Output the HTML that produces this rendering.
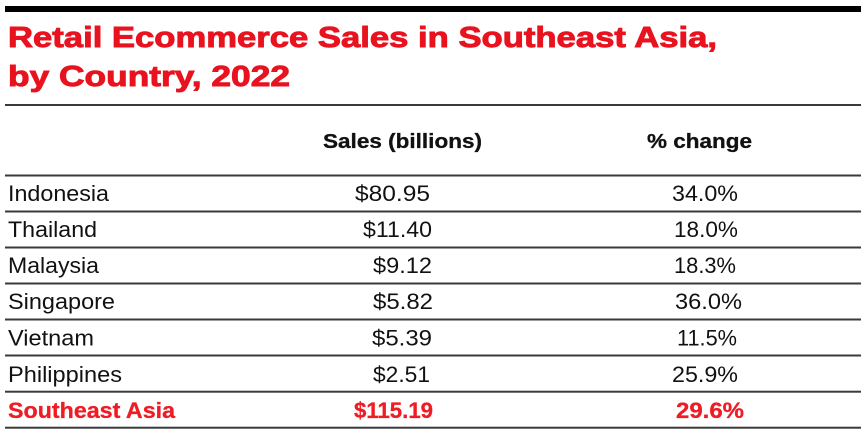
<!DOCTYPE html>
<html>
<head>
<meta charset="utf-8">
<style>
html,body{margin:0;padding:0;background:#fff;}
svg{display:block;}
text{font-family:"Liberation Sans",Arial,sans-serif;}
</style>
</head>
<body>
<svg width="865" height="435" viewBox="0 0 865 435" xmlns="http://www.w3.org/2000/svg">
<rect x="0" y="0" width="865" height="435" fill="#fff"/>
<!-- top bar -->
<rect x="5" y="6" width="856" height="6" fill="#000"/>
<!-- title -->
<text x="8" y="47" font-size="28.5" font-weight="bold" fill="#e8131f" stroke="#e8131f" stroke-width="0.9" textLength="709" lengthAdjust="spacingAndGlyphs">Retail Ecommerce Sales in Southeast Asia,</text>
<text x="8" y="86" font-size="28.5" font-weight="bold" fill="#e8131f" stroke="#e8131f" stroke-width="0.9" textLength="282" lengthAdjust="spacingAndGlyphs">by Country, 2022</text>
<!-- lines -->
<g fill="#3a3a3a">
<rect x="5" y="104" width="856" height="2"/>
<rect x="5" y="174.5" width="856" height="2"/>
<rect x="5" y="210.5" width="856" height="2"/>
<rect x="5" y="246.5" width="856" height="2"/>
<rect x="5" y="282.5" width="856" height="2"/>
<rect x="5" y="318.5" width="856" height="2"/>
<rect x="5" y="354.5" width="856" height="2"/>
<rect x="5" y="390.7" width="856" height="2"/>
<rect x="5" y="426.7" width="856" height="2"/>
</g>
<!-- header -->
<text x="323" y="148" font-size="20.5" font-weight="bold" fill="#111" stroke="#111" stroke-width="0.3" textLength="159" lengthAdjust="spacingAndGlyphs">Sales (billions)</text>
<text x="647" y="148" font-size="20.5" font-weight="bold" fill="#111" stroke="#111" stroke-width="0.3" textLength="105" lengthAdjust="spacingAndGlyphs">% change</text>
<!-- rows -->
<g font-size="22" fill="#111">
<text x="8" y="201" textLength="101" lengthAdjust="spacingAndGlyphs">Indonesia</text>
<text x="355" y="201" textLength="75" lengthAdjust="spacingAndGlyphs">$80.95</text>
<text x="672" y="201" textLength="66" lengthAdjust="spacingAndGlyphs">34.0%</text>

<text x="8" y="237" textLength="89" lengthAdjust="spacingAndGlyphs">Thailand</text>
<text x="363" y="237" textLength="69" lengthAdjust="spacingAndGlyphs">$11.40</text>
<text x="674" y="237" textLength="64" lengthAdjust="spacingAndGlyphs">18.0%</text>

<text x="8" y="273" textLength="91" lengthAdjust="spacingAndGlyphs">Malaysia</text>
<text x="373" y="273" textLength="59" lengthAdjust="spacingAndGlyphs">$9.12</text>
<text x="674" y="273" textLength="62" lengthAdjust="spacingAndGlyphs">18.3%</text>

<text x="8" y="309" textLength="107" lengthAdjust="spacingAndGlyphs">Singapore</text>
<text x="373" y="309" textLength="60" lengthAdjust="spacingAndGlyphs">$5.82</text>
<text x="675" y="309" textLength="67" lengthAdjust="spacingAndGlyphs">36.0%</text>

<text x="8" y="345.5" textLength="86" lengthAdjust="spacingAndGlyphs">Vietnam</text>
<text x="372" y="345.5" textLength="60" lengthAdjust="spacingAndGlyphs">$5.39</text>
<text x="677" y="345.5" textLength="60" lengthAdjust="spacingAndGlyphs">11.5%</text>

<text x="8" y="382" textLength="114" lengthAdjust="spacingAndGlyphs">Philippines</text>
<text x="373" y="382" textLength="57" lengthAdjust="spacingAndGlyphs">$2.51</text>
<text x="672" y="382" textLength="66" lengthAdjust="spacingAndGlyphs">25.9%</text>
</g>
<g font-size="22" font-weight="bold" fill="#ee1c25" stroke="#ee1c25" stroke-width="0.3">
<text x="8" y="418" textLength="167" lengthAdjust="spacingAndGlyphs">Southeast Asia</text>
<text x="354" y="418" textLength="79" lengthAdjust="spacingAndGlyphs">$115.19</text>
<text x="676" y="418" textLength="68" lengthAdjust="spacingAndGlyphs">29.6%</text>
</g>
</svg>
</body>
</html>
